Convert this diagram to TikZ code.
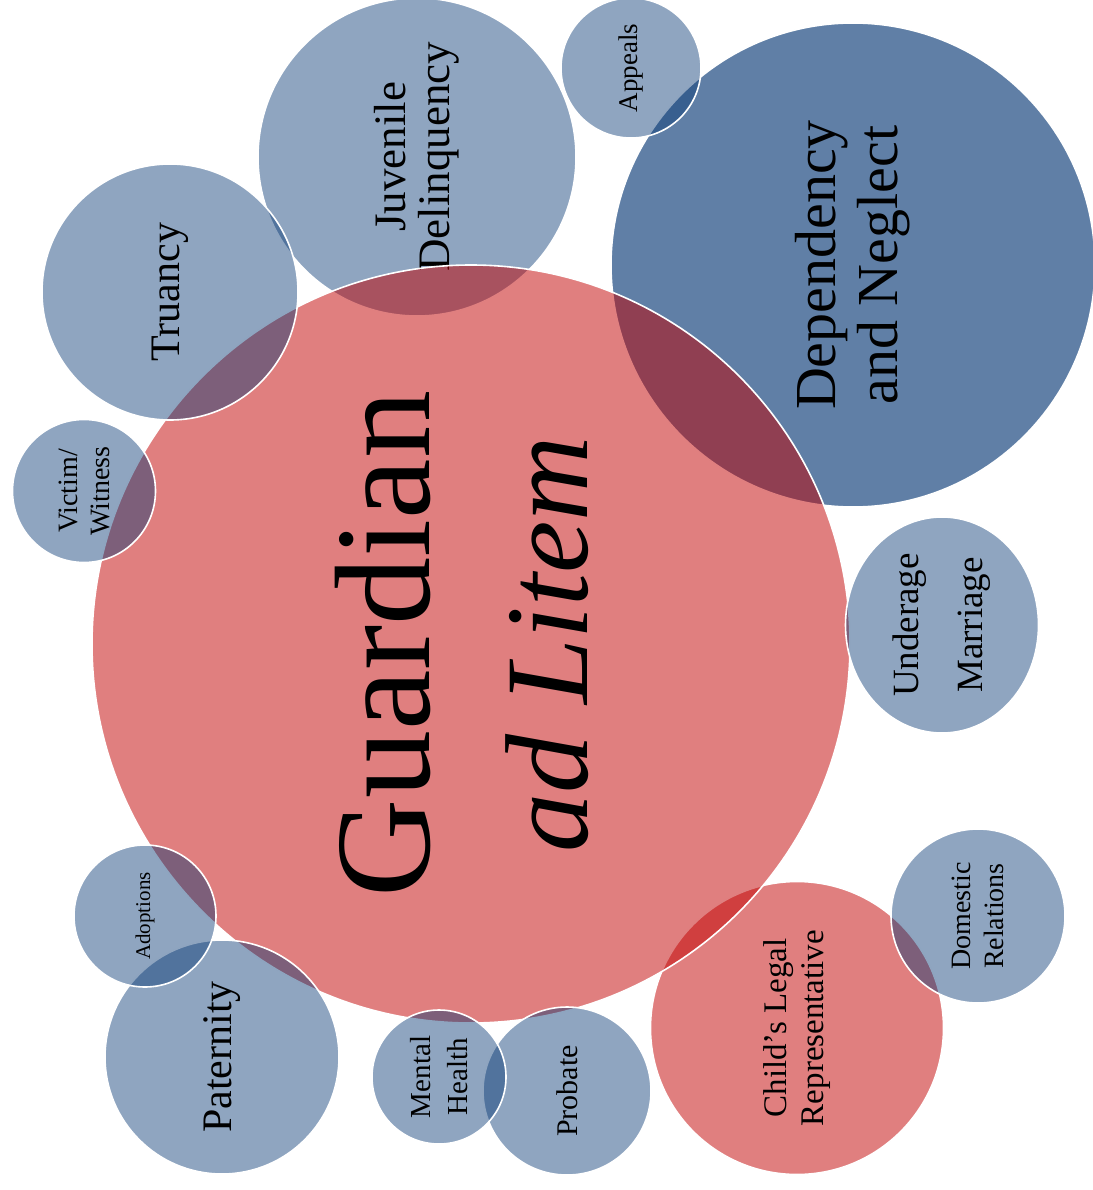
\documentclass[tikz,border=0pt]{standalone}
\usepackage{fontspec}
\setmainfont{Liberation Serif}
\usetikzlibrary{shapes.geometric}
\definecolor{caseblue}{RGB}{6,55,115}
\definecolor{casered}{RGB}{193,0,0}
\begin{document}
\begin{tikzpicture}[x=1pt, y=-1pt,
  bubble/.style={circle, inner sep=0pt, draw=white, line width=1.6pt, text opacity=1, align=center, rotate=90},
  blue bubble/.style={bubble, fill=caseblue, fill opacity=0.45},
  red bubble/.style={bubble, fill=casered, fill opacity=0.5}]
\useasboundingbox (0,0) rectangle (1092,1190);
% circles lying under the big one
\node[bubble, fill=caseblue, fill opacity=0.64, minimum size=484pt, font=\fontsize{58}{62}\selectfont] (depend) at (853,265) {Dependency\\and Neglect};
\node[blue bubble, minimum size=318pt, font=\fontsize{45}{44}\selectfont] (juvenile) at (417,157) {Juvenile\\Delinquency};
\node[red bubble, minimum size=293pt, font=\fontsize{33}{37}\selectfont] (childrep) at (797,1028) {Child’s Legal\\Representative};
% main bubble
\node[red bubble, minimum size=758pt, font=\fontsize{136}{158}\selectfont] (gal) at (471,644) {Guardian\\{\fontsize{118}{158}\selectfont\itshape ad Litem}\rule[-20pt]{0pt}{0pt}};
% circles on top
\node[blue bubble, minimum size=140pt, font=\fontsize{27}{30}\selectfont] (appeals) at (631,68) {Appeals};
\node[blue bubble, minimum size=256pt, font=\fontsize{42}{44}\selectfont] (truancy) at (170,292) {Truancy};
\node[blue bubble, minimum size=143pt, font=\fontsize{28}{32}\selectfont] (victim) at (84,491) {Victim/\\Witness};
\node[blue bubble, ellipse, minimum width=216pt, minimum height=193pt, font=\fontsize{37}{64}\selectfont] (underage) at (942,625) {Underage\\Marriage};
\node[blue bubble, minimum size=234pt, font=\fontsize{42}{44}\selectfont] (paternity) at (222,1057) {Paternity};
\node[blue bubble, minimum size=142pt, font=\fontsize{21}{24}\selectfont] (adopt) at (145,916) {Adoptions};
\node[blue bubble, minimum size=168pt, font=\fontsize{30}{32}\selectfont] (probate) at (567,1091) {Probate};
\node[blue bubble, minimum size=134pt, font=\fontsize{29}{37}\selectfont] (mental) at (439,1077) {Mental\\Health};
\node[blue bubble, minimum size=174pt, font=\fontsize{28}{33}\selectfont] (domestic) at (978,916) {Domestic\\Relations};
\end{tikzpicture}
\end{document}
